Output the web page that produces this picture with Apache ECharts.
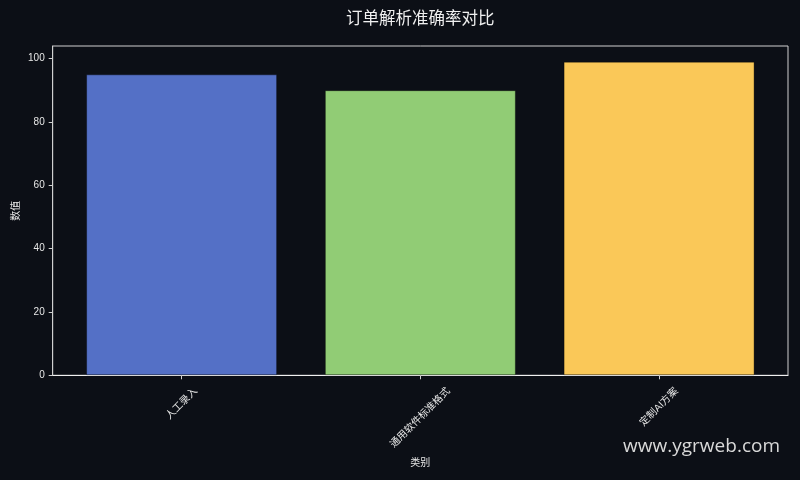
<!DOCTYPE html>
<html><head><meta charset="utf-8">
<script src="https://cdn.jsdelivr.net/npm/echarts@6/dist/echarts.min.js"></script>
<style>html,body{margin:0;padding:0;background:#0c0f16}#c{width:800px;height:480px}</style>
</head><body><div id="c"></div>
<script>
const categories = ['人工录入', '通用软件标准格式', '定制AI方案'];
const values = [95, 90, 99];
const yTicks = [0, 20, 40, 60, 80, 100];
const barColors = ['#5470c6', '#91cc75', '#fac858'];

const labelFont = '"Liberation Sans", "Noto Sans CJK SC", sans-serif';
const textColor = '#e6e6e6';

// rich styles so rotated labels are centred under their ticks (matplotlib-like)
const ctx = document.createElement('canvas').getContext('2d');
ctx.font = '10px "Liberation Sans", "Noto Sans CJK SC"';
const rich = {};
categories.forEach((t, i) => {
  const w = ctx.measureText(t).width;
  const P = 10 * Math.SQRT2 + (w + 12) / 2;
  rich['c' + i] = { padding: [P, P, 0, 0], fontSize: 10, lineHeight: 12, color: textColor, fontFamily: labelFont };
});

const chart = echarts.init(document.getElementById('c'), null, { renderer: 'canvas' });
chart.setOption({
  backgroundColor: '#0c0f16',
  animation: false,
  title: {
    text: '订单解析准确率对比',
    left: 346, top: 9,
    padding: 0,
    textStyle: { color: '#f0f0f0', fontSize: 16.5, fontWeight: 'normal', fontFamily: '"Noto Sans CJK SC", sans-serif' }
  },
  grid: {
    left: 52.7, right: 12, top: 46, bottom: 104.7,
    show: true, borderColor: '#d0d0d0', borderWidth: 1,
    outerBoundsMode: 'none', containLabel: false
  },
  xAxis: {
    type: 'value', min: -0.54, max: 2.54,
    name: '类别', nameLocation: 'middle', nameGap: 83, nameMoveOverlap: false,
    nameTextStyle: { color: textColor, fontSize: 10, fontFamily: labelFont },
    axisLine: { show: true, onZero: false, lineStyle: { color: '#f0f0f0', width: 1 } },
    axisTick: { show: true, customValues: [0, 1, 2], length: 4, lineStyle: { color: '#d0d0d0' } },
    axisLabel: {
      customValues: [0, 1, 2], rotate: 45, align: 'center', verticalAlign: 'middle', margin: 0,
      formatter: v => '{c' + v + '|' + categories[v] + '}', rich: rich
    },
    splitLine: { show: false }
  },
  yAxis: {
    type: 'value', min: 0, max: 103.95,
    name: '数值', nameLocation: 'middle', nameGap: 31, nameMoveOverlap: false,
    nameTextStyle: { color: textColor, fontSize: 10, fontFamily: labelFont },
    axisLine: { show: true, onZero: false, lineStyle: { color: '#d0d0d0', width: 1 } },
    axisTick: { show: true, customValues: yTicks, length: 4, lineStyle: { color: '#d0d0d0' } },
    axisLabel: { customValues: yTicks, color: textColor, fontSize: 10, margin: 8, fontFamily: labelFont },
    splitLine: { show: false }
  },
  series: [{
    type: 'bar',
    barWidth: '80%',
    data: values.map((v, i) => ({ value: [i, v], itemStyle: { color: barColors[i] } })),
    itemStyle: { borderColor: 'rgba(0,0,0,0.35)', borderWidth: 1 }
  }],
  graphic: [{
    type: 'text', right: 20, top: 437,
    style: { text: 'www.ygrweb.com', fill: '#d9d9d9', fontSize: 19, fontFamily: '"Open Sans", "Noto Sans", sans-serif' }
  }]
});
</script></body></html>
